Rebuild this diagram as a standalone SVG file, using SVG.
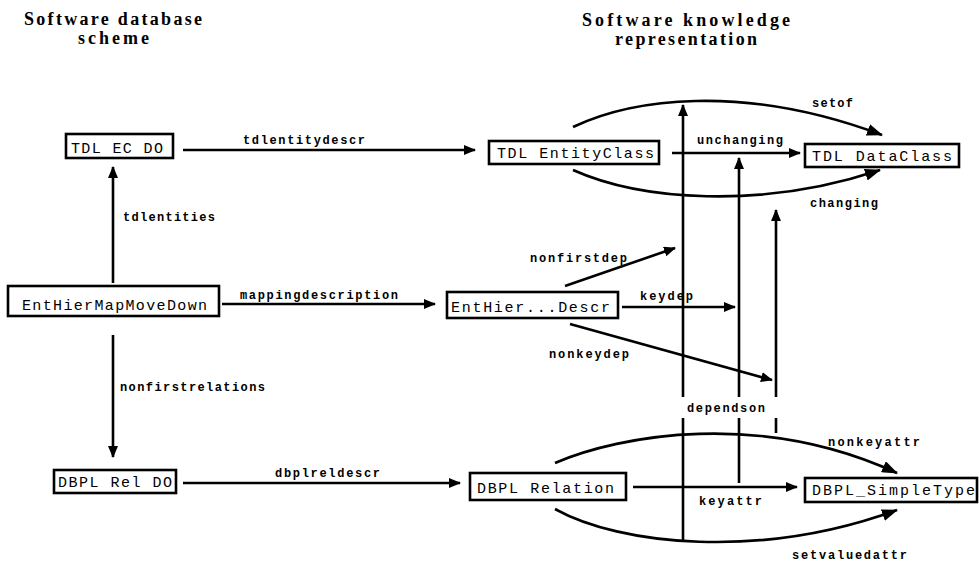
<svg xmlns="http://www.w3.org/2000/svg" width="979" height="562" viewBox="0 0 979 562">
<style>
.box{fill:#fff;stroke:#000;stroke-width:2.6}
.nt{font-family:"Liberation Mono","DejaVu Sans Mono",monospace;font-size:15px;fill:#000}
.lb{font-family:"Liberation Mono","DejaVu Sans Mono",monospace;font-size:12px;font-weight:bold;fill:#000}
.ti{font-family:"Liberation Serif","DejaVu Serif",serif;font-size:18px;font-weight:bold;fill:#000}
.ln{fill:none;stroke:#000;stroke-width:2.6}
.a{marker-end:url(#ah)}
.b{marker-end:url(#bh)}
</style>
<defs>
<marker id="ah" viewBox="0 0 12 10" refX="11" refY="5" markerWidth="12" markerHeight="10" markerUnits="userSpaceOnUse" orient="auto"><path d="M0,0 L12,5 L0,10 z" fill="#000"/></marker>
<marker id="bh" viewBox="0 0 16 12" refX="15" refY="6" markerWidth="16" markerHeight="12" markerUnits="userSpaceOnUse" orient="auto"><path d="M0,0 L16,6 L0,12 z" fill="#000"/></marker>
</defs>
<g id="titles">
<text class="ti" x="24" y="25" textLength="178" lengthAdjust="spacing">Software database</text>
<text class="ti" x="78" y="44" textLength="71" lengthAdjust="spacing">scheme</text>
<text class="ti" x="582" y="26" textLength="208" lengthAdjust="spacing">Software  knowledge</text>
<text class="ti" x="615" y="45" textLength="142" lengthAdjust="spacing">representation</text>
</g>
<g id="connectors">
<line class="ln a" x1="183" y1="150" x2="475" y2="150"/>
<text class="lb" x="243" y="144" textLength="122">tdlentitydescr</text>
<line class="ln a" x1="113" y1="283" x2="113" y2="167"/>
<text class="lb" x="123" y="221" textLength="92">tdlentities</text>
<line class="ln a" x1="222" y1="304" x2="435" y2="304"/>
<text class="lb" x="240" y="299" textLength="158">mappingdescription</text>
<line class="ln a" x1="113" y1="335" x2="113" y2="457"/>
<text class="lb" x="120" y="391" textLength="145">nonfirstrelations</text>
<line class="ln a" x1="183" y1="483" x2="460" y2="483"/>
<text class="lb" x="275" y="477" textLength="105">dbplreldescr</text>
<path class="ln b" d="M573,127 C630,100 740,82 882,135"/>
<text class="lb" x="812" y="107" textLength="41">setof</text>
<line class="ln a" x1="672" y1="153" x2="800" y2="153"/>
<text class="lb" x="697" y="144" textLength="86">unchanging</text>
<path class="ln b" d="M573,170 C640,200 760,210 880,170"/>
<text class="lb" x="810" y="207" textLength="68">changing</text>
<line class="ln a" x1="683" y1="397" x2="683" y2="105"/>
<line class="ln" x1="683" y1="418" x2="683" y2="542"/>
<line class="ln a" x1="739" y1="397" x2="739" y2="158"/>
<line class="ln" x1="739" y1="418" x2="739" y2="483"/>
<line class="ln a" x1="776" y1="397" x2="776" y2="210"/>
<line class="ln" x1="776" y1="418" x2="776" y2="433"/>
<text class="lb" x="687" y="412" textLength="78">dependson</text>
<line class="ln a" x1="565" y1="286" x2="675" y2="248"/>
<text class="lb" x="530" y="262" textLength="97">nonfirstdep</text>
<line class="ln a" x1="622" y1="307" x2="735" y2="307"/>
<text class="lb" x="640" y="300" textLength="53">keydep</text>
<line class="ln a" x1="570" y1="324" x2="772" y2="380"/>
<text class="lb" x="549" y="358" textLength="80">nonkeydep</text>
<path class="ln b" d="M555,463 C620,435 760,410 897,473"/>
<text class="lb" x="828" y="446" textLength="92">nonkeyattr</text>
<line class="ln a" x1="633" y1="487" x2="797" y2="487"/>
<text class="lb" x="699" y="505" textLength="63">keyattr</text>
<path class="ln b" d="M555,509 C620,545 760,560 897,510"/>
<text class="lb" x="792" y="559" textLength="115">setvaluedattr</text>
</g>
<g id="n1"><rect class="box" x="66" y="134" width="107" height="24"/><text class="nt" x="71" y="153" textLength="92">TDL EC DO</text></g>
<g id="n2"><rect class="box" x="489" y="141" width="170" height="23"/><text class="nt" x="497" y="158" textLength="157">TDL EntityClass</text></g>
<g id="n3"><rect class="box" x="805" y="144" width="154" height="23"/><text class="nt" x="812" y="161" textLength="140">TDL DataClass</text></g>
<g id="n4"><rect class="box" x="8" y="286" width="211" height="30"/><text class="nt" x="22" y="310" textLength="185">EntHierMapMoveDown</text></g>
<g id="n5"><rect class="box" x="447" y="292" width="171" height="26"/><text class="nt" x="451" y="312" textLength="159">EntHier...Descr</text></g>
<g id="n6"><rect class="box" x="54" y="470" width="122" height="23"/><text class="nt" x="58" y="487" textLength="114">DBPL Rel DO</text></g>
<g id="n7"><rect class="box" x="470" y="473" width="156" height="27"/><text class="nt" x="477" y="493" textLength="137">DBPL Relation</text></g>
<g id="n8"><rect class="box" x="805" y="478" width="172" height="24"/><text class="nt" x="812" y="495" textLength="163">DBPL_SimpleType</text></g>
</svg>
